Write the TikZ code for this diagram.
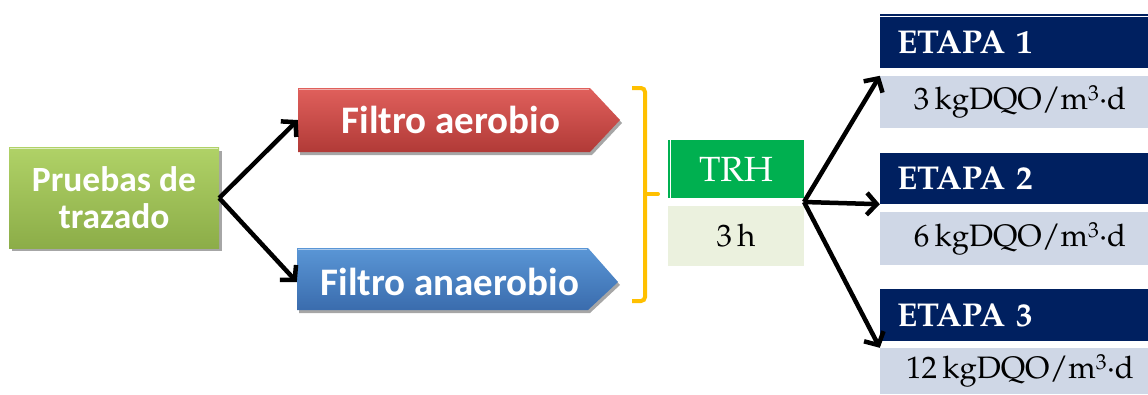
\documentclass[tikz,border=0pt]{standalone}
\usepackage[T1,TU]{fontenc}
\usepackage{fontspec}
\newfontfamily\calib{Carlito}
\usetikzlibrary{arrows.meta}
\newcommand\palfont{\fontencoding{T1}\fontfamily{ppl}\selectfont}
\definecolor{grnTop}{HTML}{B0D267}
\definecolor{grnBot}{HTML}{8CAD48}
\definecolor{redTop}{HTML}{E0605C}
\definecolor{redBot}{HTML}{B13A37}
\definecolor{bluTop}{HTML}{5A96D6}
\definecolor{bluBot}{HTML}{3A6CAD}
\definecolor{brk}{HTML}{FFC000}
\definecolor{trhg}{HTML}{00B050}
\definecolor{trhl}{HTML}{EBF1DE}
\definecolor{navy}{HTML}{002060}
\definecolor{lgrey}{HTML}{CFD7E6}
\begin{document}
\begin{tikzpicture}[x=1pt,y=-1pt,
  arr/.style={line width=4.5pt,-{Straight Barb[length=10pt,width=22pt]}},
  bevtext/.style={text=white,font=\calib\bfseries\fontsize{39}{40}\selectfont,inner sep=0pt},
  head/.style={fill=navy,text=white,minimum width=268pt,inner xsep=17pt,text width=234pt,align=left,font=\palfont\bfseries\fontsize{33}{35}\selectfont,inner ysep=0pt},
  val/.style={fill=lgrey,text=black,minimum width=268pt,align=center,font=\palfont\fontsize{31}{33}\selectfont,inner ysep=0pt},
  trhbox/.style={minimum width=136pt,align=center,font=\palfont\fontsize{31}{33}\selectfont,inner sep=0pt}]
\useasboundingbox (0,0) rectangle (1148,394);
% green box
\fill[black!35] (12,151) rectangle (222,251);
\shade[top color=grnTop,bottom color=grnBot] (9,147) rectangle (219,248);
\draw[white!60!grnTop,line width=1.5pt] (10,148.5) -- (218,148.5);
\node[bevtext,align=center,minimum width=210pt,minimum height=101pt,font=\calib\bfseries\fontsize{35.5}{37}\selectfont] (pr) at (114,198) {Pruebas de\\trazado};
% red filter
\fill[black!35] (300,91) -- (592,91) -- (622,123) -- (592,155) -- (300,155) -- cycle;
\shade[top color=redTop,bottom color=redBot] (298,88) -- (590,88) -- (620,120) -- (590,152) -- (298,152) -- cycle;
\draw[white!50!redTop,line width=1.5pt] (299,89.5) -- (589,89.5);
\node[bevtext,minimum width=306pt,minimum height=64pt] (fa) at (451,120) {Filtro aerobio};
% blue filter
\fill[black!35] (299,251) -- (590,251) -- (620,285) -- (590,313) -- (299,313) -- cycle;
\shade[top color=bluTop,bottom color=bluBot] (297,248) -- (588,248) -- (618,282) -- (588,310) -- (297,310) -- cycle;
\draw[white!50!bluTop,line width=1.5pt] (298,249.5) -- (587,249.5);
\node[bevtext,minimum width=306pt,minimum height=62pt] (fb) at (450,282) {Filtro anaerobio};
% bracket
\draw[brk,line width=4pt,rounded corners=4pt] (632,88) -- (645,88) -- (645,301) -- (632,301);
\draw[brk,line width=4pt,line cap=round] (645,194) -- (658,194);
% TRH
\node[trhbox,fill=trhg,text=white,minimum height=58pt,font=\palfont\fontsize{35}{36}\selectfont] (trh) at (736,169) {TRH};
\draw[white,line width=1pt] (670,140) -- (670,198);
\node[trhbox,fill=trhl,text=black,minimum height=60pt] (th) at (736,236) {3\,h};
\coordinate (hub) at (804,202);
% etapas
\draw[navy,line width=1.5pt] (880,15) -- (1148,15);
\node[head,minimum height=51pt] (h1) at (1014,42.5) {ETAPA 1};
\node[val,minimum height=52pt] (v1) at (1014,102) {\hspace*{12pt}3\,kgDQO/m\textsuperscript{3}\textperiodcentered d};
\node[head,minimum height=51pt] (h2) at (1014,178.5) {ETAPA 2};
\node[val,minimum height=53pt] (v2) at (1014,238.5) {\hspace*{12pt}6\,kgDQO/m\textsuperscript{3}\textperiodcentered d};
\node[head,minimum height=52pt] (h3) at (1014,315) {ETAPA 3};
\node[val,minimum height=46pt] (v3) at (1014,371) {\hspace*{12pt}12\,kgDQO/m\textsuperscript{3}\textperiodcentered d};
% connectors
\draw[arr] (pr.east) -- (fa.west);
\draw[arr] (pr.east) -- (fb.west);
\draw[arr] (hub) -- (v1.north west);
\draw[arr] (hub) -- (h2.south west);
\draw[arr] (hub) -- (v3.north west);
\end{tikzpicture}
\end{document}
